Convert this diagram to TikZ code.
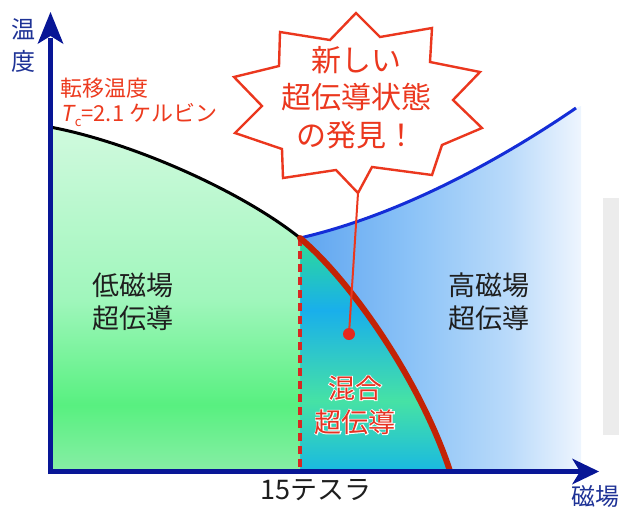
\documentclass[tikz,border=0pt]{standalone}
\usepackage{fontspec}
\setmainfont{Noto Sans CJK JP}
\newfontfamily\jpslant[FakeSlant=0.2]{Noto Sans CJK JP}
\newfontfamily\jphalo[FakeBold=6]{Noto Sans CJK JP}
\usetikzlibrary{calc}
\definecolor{axisblue}{RGB}{8,22,150}
\definecolor{labelblue}{RGB}{30,50,150}
\definecolor{txtred}{RGB}{236,58,30}
\definecolor{burstred}{RGB}{235,55,30}
\definecolor{curvered}{RGB}{195,35,5}
\definecolor{dashred}{RGB}{215,40,35}
\definecolor{dotred}{RGB}{230,40,30}
\definecolor{bluecurve}{RGB}{20,45,215}
\definecolor{txtdark}{RGB}{30,30,30}
\definecolor{mixred}{RGB}{230,50,35}
\definecolor{photogray}{RGB}{236,236,236}
\definecolor{g0}{RGB}{135,238,165}
\definecolor{g1}{RGB}{88,240,128}
\definecolor{g2}{RGB}{160,246,188}
\definecolor{g3}{RGB}{208,250,222}
\pgfdeclareverticalshading{greenv}{100bp}{color(0bp)=(g0); color(25bp)=(g0); color(34.6bp)=(g1); color(50bp)=(g2); color(75bp)=(g3); color(100bp)=(g3)}
\definecolor{m0}{RGB}{25,185,225}
\definecolor{m1}{RGB}{70,226,165}
\definecolor{m2}{RGB}{25,175,235}
\definecolor{m3}{RGB}{45,220,150}
\pgfdeclareverticalshading{mixv}{100bp}{color(0bp)=(m0); color(25bp)=(m0); color(40bp)=(m1); color(59.5bp)=(m2); color(75bp)=(m3); color(100bp)=(m3)}
\definecolor{b0}{RGB}{95,165,240}
\definecolor{b1}{RGB}{140,195,247}
\definecolor{b2}{RGB}{185,218,250}
\definecolor{b3}{RGB}{238,245,254}
\pgfdeclarehorizontalshading{blueh}{100bp}{color(0bp)=(b0); color(25bp)=(b0); color(45bp)=(b1); color(62bp)=(b2); color(75bp)=(b3); color(100bp)=(b3)}
\begin{document}
\begin{tikzpicture}[x=1pt,y=-1pt,
  axisline/.style={draw=axisblue,line width=5pt},
  axishead/.style={fill=axisblue},
  regionlabel/.style={inner sep=0pt,text=txtdark,align=left,font=\fontsize{27}{33}\selectfont},
  mixlabel/.style={inner sep=0pt,text=mixred,align=center,font=\fontsize{27}{34}\selectfont},
  redtext/.style={inner sep=0pt,text=txtred,font=\fontsize{22}{24}\selectfont},
  bursttxt/.style={inner sep=0pt,text=burstred,align=center,font=\fontsize{30}{37.5}\selectfont},
  burstshape/.style={draw=burstred,fill=white,line width=2.4pt,line join=miter},
  pointer/.style={draw=burstred,line width=2pt},
  dotstyle/.style={circle,fill=dotred,minimum size=12pt,inner sep=0pt}]
\useasboundingbox (0,0) rectangle (619,512);
% named points
\coordinate (tc) at (50,127);
\coordinate (junc) at (300,238);
\coordinate (hc) at (576,108);
\coordinate (rend) at (450,471);
\coordinate (dashbot) at (300,471);
\coordinate (bursttip) at (358,193);
% photo strip at right edge
\fill[photogray] (603,198) rectangle (619,435);
% high field region
\path[shading=blueh] (junc) .. controls (400,215) and (500,160) .. (hc) -- (581,106) -- (581,471) -- (dashbot) -- cycle;
% mixed region
\path[shading=mixv] (junc) .. controls (350,280) and (420,380) .. (rend) -- (dashbot) -- cycle;
% low field region
\path[shading=greenv] (tc) .. controls (130,142) and (240,190) .. (junc) -- (dashbot) -- (50,471) -- cycle;
% boundaries
\draw[bluecurve,line width=3pt] (junc) .. controls (400,215) and (500,160) .. (hc);
\draw[black,line width=3pt] (tc) .. controls (130,142) and (240,190) .. (junc);
\draw[dashred,line width=3.2pt,dash pattern=on 8pt off 5pt] (junc) -- (dashbot);
\draw[curvered,line width=6pt,line cap=round] (junc) .. controls (350,280) and (420,380) .. (rend);
% axes
\draw[axisline] (50.5,474) -- (50.5,38);
\draw[axisline] (48,471.5) -- (582,471.5);
\fill[axishead] (50.5,12) -- (63.5,44) -- (50.5,36) -- (37.5,44) -- cycle;
\fill[axishead] (599,471.5) -- (572,458.5) -- (580,471.5) -- (572,484.5) -- cycle;
% starburst
\path[burstshape] (356,13) -- (380,37) -- (432,28) -- (430,62) -- (480,72) -- (453,100) -- (482,128) -- (442,145) -- (432,175) -- (372,167) -- (bursttip) -- (336,170) -- (283,178) -- (282,149) -- (235,133) -- (262,106) -- (234,77) -- (279,66) -- (280,32) -- (330,40) -- cycle;
\node[bursttxt] (burst) at (356,97.5) {新しい\\超伝導状態\\の発見！};
\node[dotstyle] (dot) at (349,334) {};
\draw[pointer] (bursttip) -- (dot);
% texts
\node[inner sep=0pt,text=labelblue,align=center,font=\fontsize{24}{32}\selectfont] (ylab) at (23,46) {温\\度};
\node[inner sep=0pt,text=labelblue,anchor=west,font=\fontsize{24}{28}\selectfont] (xlab) at (571,496) {磁場};
\node[inner sep=0pt,text=txtdark,font=\fontsize{27}{30}\selectfont] (tesla) at (316,490) {15テスラ};
\node[redtext,anchor=base west] (tr1) at (60,96) {転移温度};
\node[redtext,anchor=base west] (tr2) at (60,121) {{\jpslant T}\kern1.5pt\raisebox{-5pt}{\fontsize{13}{13}\selectfont c}=2.1 ケルビン};
\node[regionlabel,anchor=west] (low) at (92,301.5) {低磁場\\超伝導};
\node[regionlabel,anchor=west] (high) at (448,302) {高磁場\\超伝導};
\node[mixlabel,text=white,font=\jphalo\fontsize{27}{34}\selectfont] (mixhalo) at (355,405) {混合\\超伝導};
\node[mixlabel] (mix) at (355,405) {混合\\超伝導};
\end{tikzpicture}
\end{document}
